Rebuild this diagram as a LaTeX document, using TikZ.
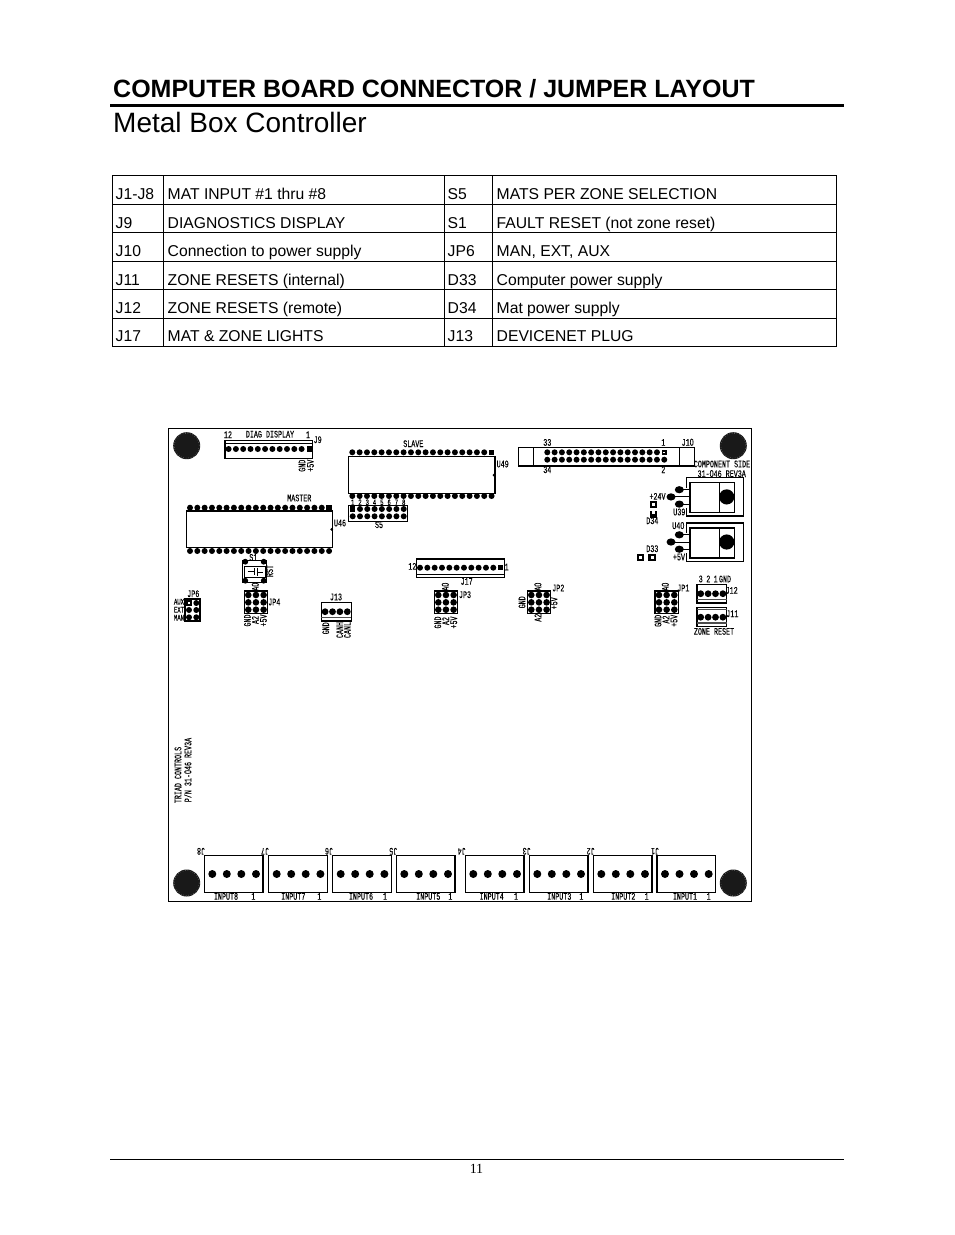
\documentclass[tikz,border=0pt]{standalone}
\usepackage{fontspec}
\setmainfont{Liberation Sans}
\newfontfamily\pagenumfont{Liberation Serif}
\newfontfamily\cadfont[FakeStretch=0.67,FakeBold=0.1]{Liberation Mono}
\newfontfamily\cadsans[FakeStretch=0.72,FakeBold=0.1]{Liberation Sans}
\newcommand{\zerodigit}{{\cadsans 0}}

\newcommand{\jumperblock}[2]{%
  \draw[partline,line width=1.3pt] (#1,#2) rectangle ++(23.3,22.7);
  \foreach \i in {0,1,2} \foreach \j in {0,1,2}
    \fill (#1+4+7.65*\i,#2+4+7.35*\j) circle (3.3);
}
\newcommand{\screwhole}[2]{%
  \fill[black!90] (#1,#2) circle (13.5);
  \draw[black!45,line width=0.5pt,dotted] (#1,#2) circle (12.6);
}
\newcommand{\regulator}[2]{%
  \draw[partline,line width=1.1pt] (686.7,#1) rectangle (743.3,#1+38.5);
  \fill[white] (686,#1+30) rectangle (689.5,#1+10);
  \draw[partline,line width=1.1pt,fill=white] (690,#1+5) rectangle (734.3,#1+35);
  \draw[partline] (719,#1+5) -- (719,#1+35);
  \fill (726.7,#2) circle (7.6);
  \foreach \dx/\dy in {679.3/-7.2,671/0,679.3/7.2} {
    \draw[line width=0.9pt] (\dx,#2+\dy) -- (690,#2+\dy);
    \fill (\dx,#2+\dy) ellipse (4.5 and 3.6);
  }
}

\tikzset{
  partline/.style={line width=1pt},
  headtext/.style={anchor=base west,inner sep=0},
  celltext/.style={anchor=base west,inner sep=0,font=\fontsize{15.7}{18}\selectfont},
  cadlabel/.style={inner sep=0,text height=6pt,text depth=0pt,font=\cadfont\fontsize{10}{10}\selectfont},
  cadsmall/.style={cadlabel,text height=5pt,font=\cadfont\fontsize{8.4}{8.4}\selectfont},
  cadside/.style={cadlabel,rotate=90},
  cadflip/.style={cadlabel,rotate=180},
}

\begin{document}
\begin{tikzpicture}[x=1pt,y=-1pt]
\useasboundingbox (0,0) rectangle (954,1235);
\fill[white] (0,0) rectangle (954,1235);

% page heading
\node[headtext,font=\fontsize{25}{28}\selectfont\bfseries] (title) at (113,97.5) {COMPUTER BOARD CONNECTOR / JUMPER LAYOUT};
\draw[line width=3pt] (110,105) -- (844,105);
\node[headtext,font=\fontsize{28}{30}\selectfont] (subtitle) at (113,132) {Metal Box Controller};

% table
\draw[line width=0.9pt] (112.3,175.5) rectangle (836.3,346.5);
\foreach \y in {204,232.5,261,318} \draw[line width=0.8pt] (112.3,\y) -- (836.3,\y);
\draw[line width=1.6pt] (112.3,289.5) -- (836.3,289.5);
\foreach \x in {163.3,444.8,492.7} \draw[line width=0.8pt] (\x,175.5) -- (\x,346.5);
\foreach \r/\y/\a/\b/\c/\d in {
  1/199.3/J1-J8/{MAT INPUT \#1 thru \#8}/S5/{MATS PER ZONE SELECTION},
  2/228/J9/{DIAGNOSTICS DISPLAY}/S1/{FAULT RESET (not zone reset)},
  3/256.5/J10/{Connection to power supply}/JP6/{MAN, EXT, AUX},
  4/285/J11/{ZONE RESETS (internal)}/D33/{Computer power supply},
  5/313.5/J12/{ZONE RESETS (remote)}/D34/{Mat power supply},
  6/341.5/J17/{MAT \& ZONE LIGHTS}/J13/{DEVICENET PLUG}} {
  \node[celltext] (a\r) at (115.5,\y) {\a};
  \node[celltext] (b\r) at (167.5,\y) {\b};
  \node[celltext] (c\r) at (447.5,\y) {\c};
  \node[celltext] (d\r) at (496.5,\y) {\d};
}

% board
\draw[line width=1pt] (168,428) rectangle (751,901);
\screwhole{186.7}{445.7}
\screwhole{733.3}{445.7}
\screwhole{186.7}{883}
\screwhole{733.3}{883}

% J9
\draw[partline,line width=1.3pt] (225,440.3) rectangle (312.3,458.3);
\draw[line width=0.6pt] (225,443) -- (312.3,443);
\foreach \i in {0,...,10} \fill (228.6+7.3*\i,449) circle (3);
\fill (306.5,446.3) rectangle (312,451.7);

% SLAVE and MASTER
\draw[line width=1.3pt] (348.7,456.7) rectangle (495,493.3);
\foreach \i in {0,...,19} \fill (352.3+7.33*\i,496) circle (3);
\foreach \i in {0,...,18} \fill (352.3+7.33*\i,452.3) circle (3);
\fill (489,449.6) rectangle (494.4,455);
\fill (494,475) circle (1.5);
\draw[line width=1.3pt] (186.7,511) rectangle (332.7,547.7);
\foreach \i in {0,...,19} \fill (190+7.32*\i,551) circle (3);
\foreach \i in {0,...,18} \fill (190+7.32*\i,507.7) circle (3);
\fill (326.3,505) rectangle (331.7,510.4);
\fill (331.7,529.3) circle (1.5);

% S5
\draw[partline] (348.7,505.7) rectangle (407.3,521);
\foreach \i in {1,...,7} \fill (352.7+7.29*\i,509) circle (3);
\fill (350,506.3) rectangle (355.4,511.7);
\foreach \i in {0,...,7} \fill (352.7+7.29*\i,516.3) circle (3);

% S1
\draw[partline] (242.7,560) rectangle (266.7,582);
\draw[line width=0.7pt] (244,566) rectangle (265,577.3);
\foreach \x in {245.3,263.7} \foreach \y in {561.7,580.7} \fill (\x,\y) circle (2.9);
\draw[line width=0.8pt] (247.7,571.7) -- (254.3,571.7) (254.3,568.3) -- (254.3,575) (257.3,567.5) -- (257.3,576) (257.3,572.7) -- (263.3,572.7);

% JP6
\draw[partline,line width=1.2pt] (185,599) rectangle (200,621);
\fill (186.4,600.4) rectangle (191.6,605.6);
\fill (196.3,603) circle (3);
\foreach \y in {610,617.3} \foreach \x in {189,196.3} \fill (\x,\y) circle (3);
\fill[white] (188,602) rectangle (190,604);

% three pin jumpers
\jumperblock{244.3}{591}
\jumperblock{434.3}{591}
\jumperblock{527.3}{591}
\jumperblock{655}{591}

% J13, J12, J11
\foreach \x/\y in {321.3/602.3,696.9/584.3,696.9/607.8} {
  \draw[partline,line width=1.2pt] (\x,\y) rectangle ++(29.8,18.6);
  \draw[black!70,line width=1.4pt] (\x,\y+15) -- ++(29.8,0);
  \foreach \i in {0,1,2,3} \fill (\x+3.8+7.4*\i,\y+9.4) circle (3.4);
}
\draw[black!70,line width=1.6pt] (696.9,609.5) -- (726.7,609.5);

% J17
\draw[partline,line width=1.2pt] (416.3,559) rectangle (504.3,577.7);
\draw[line width=0.6pt] (416.3,574.3) -- (504.3,574.3);
\foreach \i in {0,...,10} \fill (420+7.33*\i,567.7) circle (3);
\fill (498,565) rectangle (503.4,570.4);

% J10
\draw[partline,line width=1.2pt] (518.3,447.3) rectangle (694.3,466);
\draw[partline] (533.3,447.3) -- (533.3,466) (679,447.3) -- (679,466);
\foreach \i in {0,...,15} \fill (547.3+7.31*\i,452.3) circle (3);
\foreach \i in {0,...,16} \fill (547.3+7.31*\i,459.7) circle (3);
\fill (661.5,449.8) rectangle (666.8,455);
\fill[white] (663,451.5) rectangle (665,453.3);

% U39 and U40
\regulator{477.5}{496.9}
\regulator{523}{542}

% D34 and D33
\foreach \x/\y in {649.5/501,636.7/554,648.3/554} {
  \fill (\x,\y) rectangle ++(7.6,7);
  \fill[white] (\x+2.6,\y+2.3) rectangle ++(2.6,2.6);
}
\fill (649.5,510.5) rectangle ++(7.6,7);
\fill[white] (651.8,510.5) rectangle ++(3,3.8);

% input connectors
\foreach \x in {204.3,268.7,332.7,396.3,465.3,529.3,593.3,657} {
  \draw[partline,line width=1.1pt] (\x,855.7) rectangle ++(58.7,37);
  \foreach \dx in {8,22.5,37,51.7} \fill (\x+\dx,874) circle (4);
}

% labels
\foreach \n/\x/\y/\t in {
  p12/228/435/12, diag/270/434.5/{DIAG DISPLAY}, p1/308/435/1, jnine/317.7/440/J9,
  slave/413.3/444/SLAVE, uslave/502.7/464.3/U49, master/299.3/498.3/MASTER, umaster/340/523.3/U46,
  sfive/379/525/S5, sone/253.3/557.7/S1, jpsix/193.3/594/JP6,
  jpfour/274.3/602.3/JP4, jthirt/336/597.3/J13, q12/412.3/566.7/12, q1/506.7/567.3/1, jseven/466.7/581.7/J17,
  jpthree/465/595/JP3, jptwo/558.3/588.3/JP2, jpone/683.3/588.3/JP1,
  r33/547.3/442.7/33, r1/663.3/442.7/1, r34/547.3/470/34, r2/663.3/470/2, jten/687.7/442.7/J1\zerodigit,
  compside/722/464.3/{COMPONENT SIDE}, rev/721.7/474/{31-\zerodigit46 REV3A},
  vtf/657.5/496.7/+24V, uthreenine/679.3/512.3/U39, ufour/678.3/526/U4\zerodigit, vfive/679/557.3/+5V,
  dfour/652.3/521/D34, dthree/652.3/549/D33,
  s3/700.7/579.3/3, s2/708.3/579.3/2, s1/715.7/579.3/1, sg/725/579.3/GND, jtwelve/731.7/590.7/J12, jeleven/732.3/614/J11,
  zone/714/631.7/{ZONE RESET},
  ineight/226/896.7/INPUT8, iseven/293.3/896.7/INPUT7, isix/361/896.7/INPUT6, ifive/428.3/896.7/INPUT5,
  ifour/491.7/896.7/INPUT4, ithree/559.3/896.7/INPUT3, itwo/623.3/896.7/INPUT2, ione/685/896.7/INPUT1,
  n8/253.3/896.7/1, n7/319.3/896.7/1, n6/385/896.7/1, n5/450.3/896.7/1, n4/516/896.7/1, n3/581.3/896.7/1, n2/646.7/896.7/1, n1/708.7/896.7/1}
  \node[cadlabel] (\n) at (\x,\y) {\t};
\foreach \n/\y/\t in {aux/602/AUX, ext/610/EXT, man/618/MAN}
  \node[cadsmall] (\n) at (179,\y) {\t};
\foreach \i in {1,...,8} \node[cadsmall] (sw\i) at (352.7+7.29*\i-7.29,502.6) {\i};
\foreach \n/\x/\y/\t in {
  gnine/302.3/465.7/GND, vnine/310.7/465.7/+5V, rst/270/571/RST,
  afour/255.7/586.7/A\zerodigit, gfour/247.7/620.5/GND, bfour/255.7/620/A2, vfour/263.7/620.5/+5V,
  gthirt/326/628.3/GND, canh/340/630/CANH, canl/347.7/630/CANL,
  athree/445.7/586.7/A\zerodigit, gthree/438/622.5/GND, bthree/446/621/A2, vthree/454/622.5/+5V,
  atwo/538.3/586.7/A\zerodigit, gtwo/522.3/602.3/GND, vtwo/554.3/603.3/+5V, btwo/538.3/617.7/A2,
  aone/665.7/586.7/A\zerodigit, gone/658.3/620.8/GND, bone/666.3/619.5/A2, vone/674.3/620.8/+5V,
  triad/178.3/775/{TRIAD CONTROLS}, pn/188.3/770/{P/N 31-\zerodigit46 REV3A}}
  \node[cadside] (\n) at (\x,\y) {\t};
\foreach \n/\x/\t in {c8/201/J8,c7/265/J7,c6/329/J6,c5/393.3/J5,c4/461.7/J4,c3/526.7/J3,c2/590.7/J2,c1/655/J1}
  \node[cadflip] (\n) at (\x,851) {\t};

% footer
\draw[line width=0.7pt] (110,1159) -- (844,1159);
\node[inner sep=0,font=\pagenumfont\fontsize{14}{16}\selectfont] (pagenum) at (476.5,1169) {11};
\end{tikzpicture}
\end{document}
